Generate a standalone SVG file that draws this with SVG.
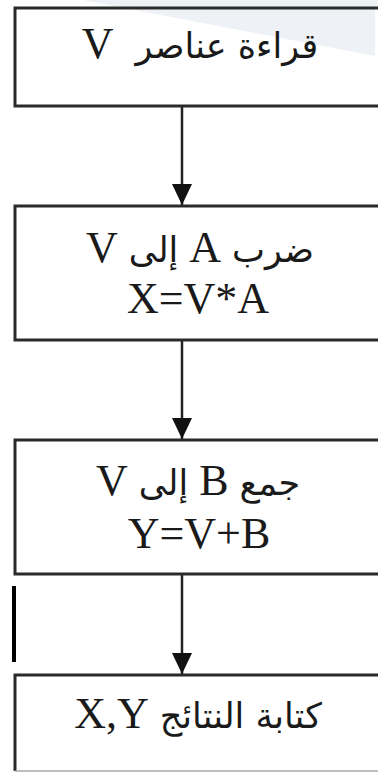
<svg xmlns="http://www.w3.org/2000/svg" width="378" height="773" viewBox="0 0 378 773">
  <style>
    .box { fill: none; stroke: #2a2a2a; stroke-width: 3; }
    .wire { stroke: #222; stroke-width: 2.5; fill: none; }
    .lbl { font-family: "Liberation Serif", "DejaVu Sans", serif; font-size: 44px; fill: #1a1a1a; text-anchor: middle; }
    .ar { direction: rtl; unicode-bidi: embed; }
    .arw { font-family: "DejaVu Sans", sans-serif; font-size: 35px; font-weight: normal; }
  </style>

  <rect width="378" height="773" fill="#fff"/>
  <!-- pale shading in the upper right corner -->
  <polygon points="83,0 378,0 378,8 375,8 375,56" fill="#eef2f6"/>

  <g id="connectors">
    <line class="wire" x1="182" y1="106" x2="182" y2="205"/>
    <polygon points="172,184 192,184 182,205" fill="#111"/>
    <line class="wire" x1="182" y1="340" x2="182" y2="439"/>
    <polygon points="172,418 192,418 182,439" fill="#111"/>
    <line class="wire" x1="182" y1="574" x2="182" y2="674"/>
    <polygon points="172,653 192,653 182,674" fill="#111"/>
  </g>

  <!-- loose vertical bar at the left margin -->
  <rect x="12" y="586" width="4" height="76" fill="#000"/>

  <g id="read">
    <path class="box" d="M380,8 H15 V106 H380"/>
    <text class="lbl ar" x="200" y="58"><tspan class="arw">قراءة عناصر</tspan>&#160; V</text>
  </g>

  <g id="multiply">
    <path class="box" d="M380,206 H15 V340 H380"/>
    <text class="lbl ar" x="200" y="262"><tspan class="arw">ضرب</tspan> A <tspan class="arw">إلى</tspan> V</text>
    <text class="lbl" x="198" y="313">X=V*A</text>
  </g>

  <g id="add">
    <path class="box" d="M380,440 H15 V574 H380"/>
    <text class="lbl ar" x="198" y="495"><tspan class="arw">جمع</tspan> B <tspan class="arw">إلى</tspan> V</text>
    <text class="lbl" x="199" y="548">Y=V+B</text>
  </g>

  <g id="write">
    <path class="box" d="M380,675 H15 V771"/>
    <line x1="15" y1="771" x2="380" y2="771" stroke="#aaa" stroke-width="1.5"/>
    <text class="lbl ar" x="198" y="728"><tspan class="arw">كتابة النتائج</tspan> X,Y</text>
  </g>
</svg>
